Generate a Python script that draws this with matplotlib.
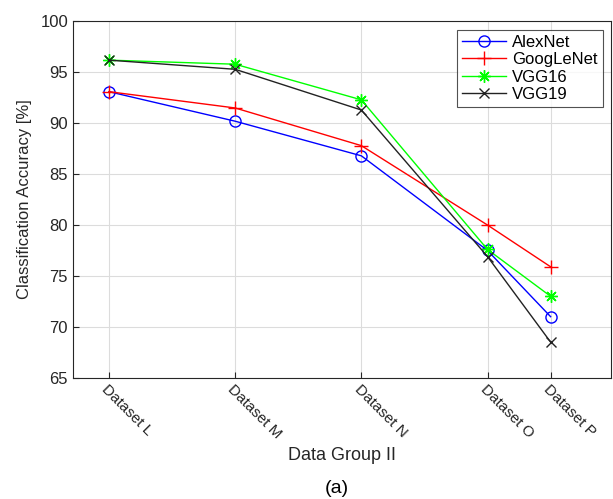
import matplotlib.pyplot as plt
import numpy as np

plt.rcParams['font.family'] = ['Liberation Sans', 'DejaVu Sans']

# data
datasets = ['Dataset L', 'Dataset M', 'Dataset N', 'Dataset O', 'Dataset P']
xpos = [1, 2, 3, 4, 4.5]
alexnet = [93.1, 90.2, 86.8, 77.5, 71.0]
googlenet = [93.1, 91.5, 87.8, 80.0, 75.9]
vgg16 = [96.2, 95.8, 92.3, 77.6, 73.0]
vgg19 = [96.2, 95.3, 91.3, 76.9, 68.5]

fig = plt.figure(figsize=(6.13, 4.99), dpi=100)
ax = fig.add_axes([0.119, 0.243, 0.878, 0.714])

ax.plot(xpos, alexnet, color='#0000ff', marker='o', markersize=8, markerfacecolor='none',
        linewidth=1, label='AlexNet')
ax.plot(xpos, googlenet, color='#ff0000', marker='+', markersize=10, markeredgewidth=1,
        linewidth=1, label='GoogLeNet')
ax.plot(xpos, vgg16, color='#00ff00', marker=(8, 2, 0), markersize=9,
        markeredgewidth=1, linewidth=1, label='VGG16')
ax.plot(xpos, vgg19, color='#222222', marker='x', markersize=7, markeredgewidth=1,
        linewidth=1, label='VGG19')

ax.set_xlim(0.714, 4.98)
ax.set_ylim(65, 100)
ax.set_yticks(np.arange(65, 101, 5))
ax.set_xticks(xpos)
ax.set_xticklabels(datasets, rotation=-45, ha='left', va='top', rotation_mode='anchor')
ax.tick_params(axis='both', colors='#262626', direction='in', length=4)
ax.tick_params(axis='y', labelsize=12)
ax.tick_params(axis='x', labelsize=11, pad=3)
ax.grid(True, color='#dcdcdc', linewidth=0.8)
ax.set_axisbelow(True)
for s in ax.spines.values():
    s.set_color('#262626')
    s.set_linewidth(0.8)

ax.set_ylabel('Classification Accuracy [%]', fontsize=12, color='#262626', labelpad=6)
fig.text(0.558, 0.088, 'Data Group II', ha='center', va='center', fontsize=13, color='#262626')
fig.text(0.55, 0.022, '(a)', ha='center', va='center', fontsize=14, color='black')

leg = ax.legend(loc='upper right', fontsize=12, frameon=True, fancybox=False,
                edgecolor='#262626', handlelength=2.6, labelspacing=0.15,
                borderpad=0.3, handletextpad=0.4, borderaxespad=0.5)
leg.get_frame().set_linewidth(0.8)

fig.savefig('out.png', dpi=100)
